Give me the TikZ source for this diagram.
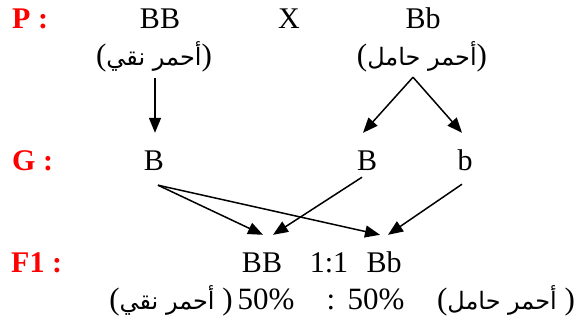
\documentclass[tikz,border=0pt]{standalone}
\usepackage{fontspec}
\setmainfont{Liberation Serif}
\newfontfamily\arabicfont[Script=Arabic]{DejaVu Sans}
\TeXXeTstate=1
\usetikzlibrary{arrows.meta}
\begin{document}
\begin{tikzpicture}[x=1pt,y=-1pt]
\tikzset{gene/.style={inner sep=0pt, font=\fontsize{30}{36}\selectfont, text height=20pt, text depth=0pt},
  etiq/.style={inner sep=0pt, anchor=west, text=red, font=\fontsize{30}{36}\selectfont\bfseries, text height=20pt, text depth=0pt},
  pheno/.style={inner sep=0pt, font=\fontsize{31}{36}\selectfont, text height=17pt, text depth=7pt},
  fleche/.style={line width=1.5pt, -{Triangle[length=15pt,width=12pt]}}}
\newcommand{\ar}[1]{{\arabicfont\fontsize{24}{28}\selectfont\beginR #1\endR}}
\useasboundingbox (0,0) rectangle (578,325);
% parents
\node[etiq] (P) at (12,18) {P :};
\node[gene] (PBB) at (160,18) {BB};
\node[gene] (X) at (289,18) {X};
\node[gene] (PBb) at (423,18) {Bb};
\node[pheno] (phA) at (154,60) {(\ar{أحمر نقي})};
\node[pheno] (phB) at (422,60) {(\ar{أحمر حامل})};
% gametes
\node[etiq] (G) at (12,160) {G :};
\node[gene] (gB1) at (154,160) {B};
\node[gene] (gB2) at (367,160) {B};
\node[gene] (gb) at (465,160) {b};
\draw[fleche] ([shift={(1,6)}]phA.south) -- ([shift={(1,-17)}]gB1.north);
\draw[fleche] ([shift={(-9,5)}]phB.south) -- ([shift={(-4,-17)}]gB2.north);
\draw[fleche] ([shift={(-9,5)}]phB.south) -- ([shift={(-3,-17)}]gb.north);
% F1
\node[etiq] (F) at (11,262) {F1 :};
\node[gene] (fBB) at (262,262) {BB};
\node[gene] (ratio) at (329,262) {1:1};
\node[gene] (fBb) at (384,262) {Bb};
\draw[fleche] ([shift={(4,15)}]gB1.south) -- ([shift={(1,-17)}]fBB.north);
\draw[fleche] ([shift={(4,15)}]gB1.south) -- ([shift={(-4,-17)}]fBb.north);
\draw[fleche] ([shift={(-5,7)}]gB2.south) -- ([shift={(11,-17)}]fBB.north);
\draw[fleche] ([shift={(-3,14)}]gb.south) -- ([shift={(4,-17)}]fBb.north);
\node[pheno] (q1) at (171,304) {(\ar{أحمر نقي}\ )};
\node[pheno] (pc1) at (266,304) {50\%};
\node[pheno] (sep) at (331,304) {:};
\node[pheno] (pc2) at (376,304) {50\%};
\node[pheno] (q2) at (506,304) {(\ar{أحمر حامل}\ )};
\end{tikzpicture}
\end{document}
